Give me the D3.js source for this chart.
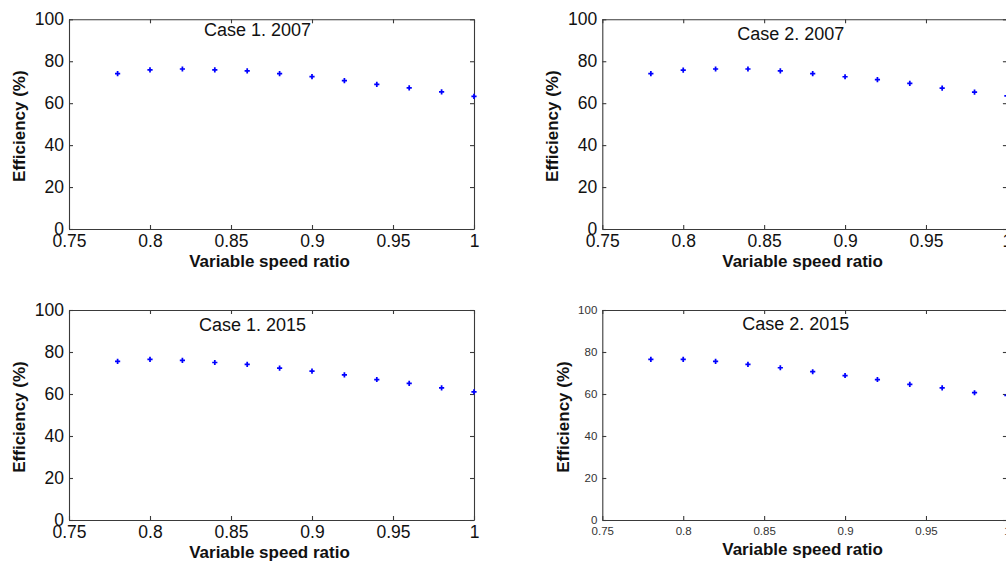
<!DOCTYPE html>
<html>
<head>
<meta charset="utf-8">
<script src="https://cdn.jsdelivr.net/npm/d3@7"></script>
<style>
  html, body { margin: 0; padding: 0; background: #fff; }
  svg { display: block; font-family: "Liberation Sans", Arial, sans-serif; }
</style>
</head>
<body>
<svg id="chart" width="1006" height="563"></svg>
<script>
// ---------------- data ----------------
const speedRatio = [0.78, 0.80, 0.82, 0.84, 0.86, 0.88, 0.90, 0.92, 0.94, 0.96, 0.98, 1.00];
const case1_2007 = [74.1, 75.9, 76.3, 75.9, 75.4, 74.1, 72.7, 70.8, 69.0, 67.3, 65.4, 63.2];
const case2_2007 = [74.1, 75.8, 76.3, 76.3, 75.4, 74.1, 72.6, 71.2, 69.4, 67.2, 65.3, 63.5];
const case1_2015 = [75.5, 76.5, 76.0, 75.0, 74.1, 72.3, 70.9, 69.1, 66.9, 65.1, 62.9, 61.0];
const case2_2015 = [76.5, 76.5, 75.5, 74.1, 72.5, 70.6, 68.8, 66.9, 64.6, 62.9, 60.6, 59.4];

const titles = ["Case 1. 2007", "Case 2. 2007", "Case 1. 2015", "Case 2. 2015"];
const seriesList = [case1_2007, case2_2007, case1_2015, case2_2015];
// annotation anchor (data coordinates) for each title
const titleAnchorX = [0.8333, 0.8334, 0.8302, 0.8365];
const titleAnchorY = [92.1, 90.0, 89.8, 90.5];

const xTicks = [0.75, 0.8, 0.85, 0.9, 0.95, 1];
const xTickLabels = ["0.75", "0.8", "0.85", "0.9", "0.95", "1"];
const yTicks = [0, 20, 40, 60, 80, 100];
const yTickLabels = ["0", "20", "40", "60", "80", "100"];
const xLabel = "Variable speed ratio";
const yLabel = "Efficiency (%)";

// ---------------- layout ----------------
const panels = [
  { left: 69,    top: 19.3, width: 405,   height: 209.7, tickFont: 17.5, tickColor: "#111", xPad: 6, yPad: 5, xLabelY: 267,   yLabelX: 25 },
  { left: 602.3, top: 19.3, width: 404.6, height: 209.7, tickFont: 17.5, tickColor: "#111", xPad: 6, yPad: 5, xLabelY: 267,   yLabelX: 557.5 },
  { left: 69,    top: 310,  width: 405,   height: 210,   tickFont: 17.5, tickColor: "#111", xPad: 6, yPad: 5, xLabelY: 558,   yLabelX: 25 },
  { left: 602.3, top: 310,  width: 404.6, height: 210,   tickFont: 11.5, tickColor: "#333", xPad: 7, yPad: 5, xLabelY: 554.5, yLabelX: 568.5 }
];

const svg = d3.select("#chart");
const axisColor = "#3a3a3a";

panels.forEach((p, i) => {
  const x = d3.scaleLinear().domain([0.75, 1]).range([p.left, p.left + p.width]);
  const y = d3.scaleLinear().domain([0, 100]).range([p.top + p.height, p.top]);
  const g = svg.append("g");

  const styleAxis = sel => {
    sel.selectAll(".domain").attr("stroke", axisColor).attr("stroke-width", 1.1);
    sel.selectAll(".tick line").attr("stroke", axisColor).attr("stroke-width", 1.1);
    sel.selectAll(".tick text")
      .attr("fill", p.tickColor)
      .style("font-size", p.tickFont + "px")
      .style("font-family", '"Liberation Sans", Arial, sans-serif');
  };

  // bottom
  g.append("g").attr("transform", `translate(0,${p.top + p.height})`)
    .call(d3.axisBottom(x).tickValues(xTicks).tickFormat((d, k) => xTickLabels[k])
      .tickSizeInner(-4).tickSizeOuter(0).tickPadding(p.xPad))
    .call(styleAxis);
  // top
  g.append("g").attr("transform", `translate(0,${p.top})`)
    .call(d3.axisTop(x).tickValues(xTicks).tickFormat("")
      .tickSizeInner(-4).tickSizeOuter(0))
    .call(styleAxis);
  // left
  g.append("g").attr("transform", `translate(${p.left},0)`)
    .call(d3.axisLeft(y).tickValues(yTicks).tickFormat((d, k) => yTickLabels[k])
      .tickSizeInner(-4).tickSizeOuter(0).tickPadding(p.yPad))
    .call(styleAxis);
  // right
  g.append("g").attr("transform", `translate(${p.left + p.width},0)`)
    .call(d3.axisRight(y).tickValues(yTicks).tickFormat("")
      .tickSizeInner(-4).tickSizeOuter(0))
    .call(styleAxis);

  // markers
  const sym = d3.symbol().type(d3.symbolCross).size(15);
  g.append("g").selectAll("path")
    .data(speedRatio.map((r, k) => [r, seriesList[i][k]]))
    .join("path")
    .attr("transform", d => `translate(${x(d[0])},${y(d[1])})`)
    .attr("d", sym)
    .attr("fill", "#0000ff");

  // title annotation
  g.append("text")
    .attr("x", x(titleAnchorX[i]))
    .attr("y", y(titleAnchorY[i]))
    .attr("text-anchor", "start")
    .style("font-size", "18px")
    .attr("fill", "#111")
    .text(titles[i]);

  // x label
  g.append("text")
    .attr("x", p.left + p.width / 2 - 2)
    .attr("y", p.xLabelY)
    .attr("text-anchor", "middle")
    .style("font-size", "17px")
    .style("font-weight", "bold")
    .attr("fill", "#111")
    .text(xLabel);

  // y label
  const cy = p.top + p.height / 2 + 2;
  g.append("text")
    .attr("transform", `translate(${p.yLabelX},${cy}) rotate(-90)`)
    .attr("text-anchor", "middle")
    .style("font-size", "17px")
    .style("font-weight", "bold")
    .attr("fill", "#111")
    .text(yLabel);
});
</script>
</body>
</html>
